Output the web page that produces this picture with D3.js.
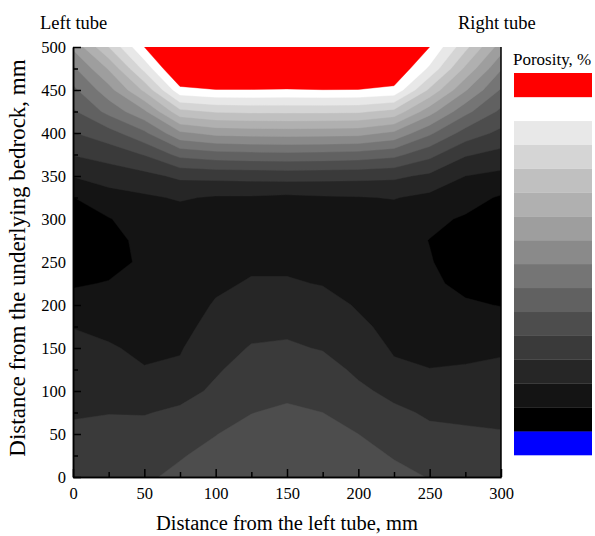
<!DOCTYPE html>
<html>
<head>
<meta charset="utf-8">
<script src="https://cdn.jsdelivr.net/npm/d3@7"></script>
<style>
  body { margin: 0; background: #fff; }
  svg { display: block; font-family: "Liberation Serif", "Times New Roman", serif; }
</style>
</head>
<body>
<svg id="chart" width="595" height="536"></svg>
<script>
// Measurement grid (mm)
const xValues = [0, 25, 50, 75, 100, 125, 150, 175, 200, 225, 250, 275, 300];
const yValues = [0, 25, 50, 75, 100, 125, 150, 175, 200, 225, 250, 275, 300, 325, 350, 375, 400, 425, 450, 475, 500];

// Porosity level per column (one array per x), listed from y = 0 up to y = 500
const porosityColumns = [
    [4.3, 4.2, 4.1, 3.95, 3.7, 3.45, 3.2, 2.98, 2.35, 1.9, 1.6, 1.5, 1.65, 1.98, 3.05, 4.05, 4.95, 5.85, 6.75, 7.8, 9.2],
    [4.6, 4.4, 4.2, 3.98, 3.6, 3.3, 3.1, 2.75, 2.4, 2.05, 1.7, 1.75, 1.95, 2.6, 3.45, 4.4, 5.6, 7.3, 8.6, 10.1, 12.0],
    [4.9, 4.6, 4.3, 3.95, 3.45, 3.05, 2.8, 2.65, 2.5, 2.3, 2.15, 2.2, 2.45, 2.85, 3.7, 5.05, 6.8, 8.8, 11.2, 13.3, 15.0],
    [5.15, 4.95, 4.55, 4.15, 3.7, 3.15, 2.92, 2.65, 2.45, 2.3, 2.25, 2.35, 2.55, 3.1, 4.2, 6.3, 8.8, 11.7, 14.7, 16.5, 17.0],
    [5.4, 5.2, 4.98, 4.45, 4.15, 3.9, 3.7, 3.4, 3.1, 2.8, 2.45, 2.4, 2.5, 2.9, 4.3, 6.6, 9.3, 12.1, 14.95, 17.0, 18.0],
    [5.7, 5.5, 5.25, 4.98, 4.7, 4.35, 4.05, 3.8, 3.45, 3.1, 2.8, 2.5, 2.45, 2.9, 4.35, 6.7, 9.4, 12.2, 14.95, 17.0, 18.0],
    [5.9, 5.7, 5.45, 5.15, 4.8, 4.45, 4.1, 3.85, 3.5, 3.1, 2.8, 2.55, 2.45, 2.8, 4.4, 6.75, 9.45, 12.2, 14.9, 17.0, 18.0],
    [5.8, 5.55, 5.3, 5.0, 4.7, 4.3, 3.95, 3.7, 3.4, 2.95, 2.75, 2.5, 2.45, 2.9, 4.35, 6.7, 9.4, 12.2, 14.97, 17.0, 18.0],
    [5.45, 5.25, 5.0, 4.5, 4.15, 3.85, 3.5, 3.2, 2.9, 2.6, 2.45, 2.4, 2.5, 2.95, 4.3, 6.6, 9.35, 12.15, 14.95, 17.0, 18.0],
    [5.2, 4.95, 4.6, 4.15, 3.8, 3.15, 2.9, 2.7, 2.45, 2.3, 2.25, 2.35, 2.5, 3.05, 4.2, 6.3, 8.8, 11.7, 14.75, 16.0, 17.0],
    [4.97, 4.4, 4.15, 3.9, 3.3, 3.02, 2.7, 2.5, 2.3, 2.15, 2.05, 1.98, 2.2, 2.75, 3.8, 5.3, 7.2, 9.4, 11.8, 13.8, 15.0],
    [4.5, 4.3, 4.1, 3.85, 3.4, 3.05, 2.85, 2.5, 2.1, 1.8, 1.6, 1.65, 1.9, 2.35, 3.0, 4.1, 5.6, 7.3, 9.1, 10.8, 12.3],
    [4.3, 4.2, 4.05, 3.8, 3.5, 3.2, 2.85, 2.4, 1.97, 1.6, 1.45, 1.4, 1.5, 1.9, 2.75, 3.7, 4.75, 5.8, 6.9, 8.1, 9.5]
];

// Contour levels, lowest (blue) to highest (red)
const levels = [0, 1, 2, 3, 4, 5, 6, 7, 8, 9, 10, 11, 12, 13, 14, 15];
const levelColors = ['#0000ff', '#000000', '#141414', '#262626', '#3a3a3a', '#4d4d4d', '#616161', '#757575',
                     '#8a8a8a', '#9e9e9e', '#b0b0b0', '#c0c0c0', '#d5d5d5', '#e8e8e8', '#ffffff', '#ff0000'];

const xTicks = [0, 50, 100, 150, 200, 250, 300];
const yTicks = [0, 50, 100, 150, 200, 250, 300, 350, 400, 450, 500];

// ContourChart Class
class ContourChart {
    constructor (_parentElement) {
        this.parentElement = _parentElement;

        this.initViz();
    };

    initViz () {
        var viz = this;

        viz.margin = { left: 73, top: 47 };
        viz.width = 428;
        viz.height = 430;

        viz.svg = d3.select(viz.parentElement);
        viz.g = viz.svg.append('g')
            .attr('transform', `translate(${viz.margin.left},${viz.margin.top})`);

        viz.xScale = d3.scaleLinear().domain([0, 300]).range([0, viz.width]);
        viz.yScale = d3.scaleLinear().domain([0, 500]).range([viz.height, 0]);
        viz.color = d3.scaleOrdinal().domain(levels).range(levelColors);

        viz.svg.append('defs').append('clipPath')
            .attr('id', 'plot-clip')
            .append('rect')
            .attr('width', viz.width)
            .attr('height', viz.height)
            .attr('transform', `translate(${viz.margin.left},${viz.margin.top})`);

        viz.contourG = viz.g.append('g').attr('clip-path', 'url(#plot-clip)')
            .attr('transform', `translate(${-viz.margin.left},${-viz.margin.top})`)
            .append('g')
            .attr('transform', `translate(${viz.margin.left},${viz.margin.top})`);

        viz.setupData();
    };

    setupData () {
        var viz = this;

        viz.nx = xValues.length;
        viz.ny = yValues.length;
        viz.grid = [];
        yValues.forEach((y, j) => {
            xValues.forEach((x, i) => viz.grid.push(porosityColumns[i][j]));
        });

        viz.updateViz();
    };

    updateViz () {
        var viz = this;

        let xStep = xValues[1] - xValues[0];
        let yStep = yValues[1] - yValues[0];

        // grid coords -> data -> pixels (sample i sits at i + 0.5)
        let projection = d3.geoTransform({
            point: function (cx, cy) {
                this.stream.point(
                    viz.xScale(xValues[0] + (cx - 0.5) * xStep),
                    viz.yScale(yValues[0] + (cy - 0.5) * yStep));
            }
        });
        let path = d3.geoPath(projection);

        let contours = d3.contours()
            .size([viz.nx, viz.ny])
            .thresholds(levels.slice(1))(viz.grid);

        viz.contourG.selectAll('path')
            .data(contours)
            .enter().append('path')
            .attr('d', path)
            .attr('fill', d => viz.color(d.value))
            .attr('stroke', d => viz.color(d.value))
            .attr('stroke-width', 0.4);

        // Axes, ticks pointing inward
        viz.xAxis = viz.g.append('g').attr('transform', `translate(0,${viz.height})`)
            .call(d3.axisBottom(viz.xScale).tickValues(xTicks).tickSizeInner(-8).tickSizeOuter(0).tickPadding(10));
        viz.xMinor = viz.g.append('g').attr('transform', `translate(0,${viz.height})`)
            .call(d3.axisBottom(viz.xScale).tickValues(d3.range(25, 300, 50)).tickSizeInner(-5).tickSizeOuter(0).tickFormat(''));
        viz.yAxis = viz.g.append('g')
            .call(d3.axisLeft(viz.yScale).tickValues(yTicks).tickSizeInner(-8).tickSizeOuter(0).tickPadding(7));
        viz.yMinor = viz.g.append('g')
            .call(d3.axisLeft(viz.yScale).tickValues(d3.range(25, 500, 50)).tickSizeInner(-5).tickSizeOuter(0).tickFormat(''));

        viz.g.selectAll('.domain, .tick line')
            .attr('stroke', '#000')
            .attr('stroke-width', 1.5);
        viz.g.selectAll('.tick text')
            .attr('font-family', '"Liberation Serif", serif')
            .attr('font-size', '16.5px')
            .attr('fill', '#000');

        viz.g.append('line')
            .attr('x1', viz.width).attr('x2', viz.width)
            .attr('y1', 0).attr('y2', viz.height)
            .attr('stroke', '#000')
            .attr('stroke-width', 1.5);

        // Labels
        viz.svg.append('text')
            .attr('x', 40).attr('y', 29)
            .attr('font-size', '18.5px')
            .text('Left tube');
        viz.svg.append('text')
            .attr('x', 458).attr('y', 29)
            .attr('font-size', '18.5px')
            .text('Right tube');
        viz.svg.append('text')
            .attr('x', viz.margin.left + viz.width / 2).attr('y', 530)
            .attr('font-size', '20.5px')
            .attr('text-anchor', 'middle')
            .text('Distance from the left tube, mm');
        viz.svg.append('text')
            .attr('transform', 'rotate(-90)')
            .attr('x', -258).attr('y', 25)
            .attr('font-size', '23px')
            .attr('text-anchor', 'middle')
            .text('Distance from the underlying bedrock, mm');

        // Legend
        viz.legend = viz.svg.append('g');
        viz.legend.append('text')
            .attr('x', 513).attr('y', 65)
            .attr('font-size', '17px')
            .text('Porosity, %');

        let legendScale = d3.scaleBand()
            .domain(levels.slice().reverse())
            .range([73, 455]);

        viz.legend.selectAll('rect')
            .data(levels)
            .enter().append('rect')
            .attr('x', 514)
            .attr('y', d => legendScale(d))
            .attr('width', 78)
            .attr('height', legendScale.bandwidth() + 0.3)
            .attr('fill', d => viz.color(d));
    };
}

new ContourChart('#chart');
</script>
</body>
</html>
